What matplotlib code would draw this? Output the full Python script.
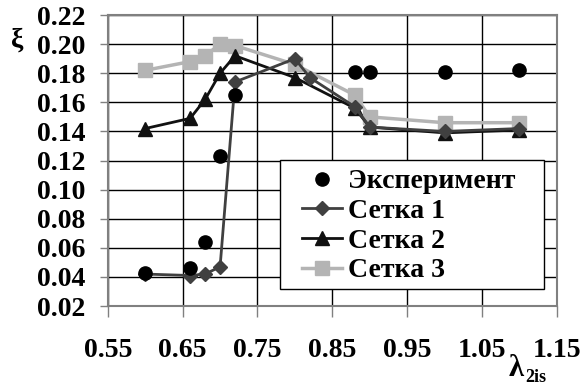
import matplotlib.pyplot as plt
from matplotlib.patches import Rectangle
from matplotlib.ticker import FixedLocator, MultipleLocator

plt.rcParams['font.family'] = ['Liberation Serif', 'DejaVu Serif']
plt.rcParams['font.weight'] = 'bold'

x_ticks = [0.55, 0.65, 0.75, 0.85, 0.95, 1.05, 1.15]

# experiment
exp_x = [0.60, 0.66, 0.68, 0.70, 0.72, 0.88, 0.90, 1.00, 1.10]
exp_y = [0.043, 0.046, 0.064, 0.123, 0.165, 0.181, 0.181, 0.181, 0.182]

# grids
s1_x = [0.60, 0.66, 0.68, 0.70, 0.72, 0.80, 0.82, 0.88, 0.90, 1.00, 1.10]
s1_y = [0.042, 0.041, 0.042, 0.047, 0.174, 0.190, 0.177, 0.157, 0.143, 0.140, 0.142]

s2_x = [0.60, 0.66, 0.68, 0.70, 0.72, 0.80, 0.88, 0.90, 1.00, 1.10]
s2_y = [0.142, 0.149, 0.162, 0.180, 0.192, 0.177, 0.156, 0.143, 0.139, 0.141]

s3_x = [0.60, 0.66, 0.68, 0.70, 0.72, 0.80, 0.88, 0.90, 1.00, 1.10]
s3_y = [0.182, 0.188, 0.192, 0.200, 0.199, 0.186, 0.165, 0.150, 0.146, 0.146]

W, H = 583, 385
fig = plt.figure(figsize=(W / 100, H / 100), dpi=100)
ax = fig.add_axes([0.185, 0.205, 0.77, 0.756])

ax.plot(s3_x, s3_y, color='#b4b4b4', lw=2.5, marker='s', ms=9.5, label='Сетка 3', zorder=3)
ax.plot(s2_x, s2_y, color='#111111', lw=2, marker='^', ms=10, label='Сетка 2', zorder=4)
ax.plot(s1_x, s1_y, color='#404040', lw=2, marker='D', ms=7, label='Сетка 1', zorder=5)
ax.plot(exp_x, exp_y, ls='none', color='black', marker='o', ms=9.5, label='Эксперимент', zorder=6)

ax.set_xlim(0.55, 1.15)
ax.set_ylim(0.02, 0.22)
ax.xaxis.set_major_locator(FixedLocator(x_ticks))
ax.yaxis.set_major_locator(MultipleLocator(0.02))
ax.xaxis.set_major_formatter(plt.FormatStrFormatter('%.2f'))
ax.yaxis.set_major_formatter(plt.FormatStrFormatter('%.2f'))
ax.grid(True, color='black', lw=1)
ax.set_axisbelow(True)
for sp in ax.spines.values():
    sp.set_color('#808080')
    sp.set_linewidth(1.5)
ax.tick_params(axis='x', length=8, width=1, color='#808080', pad=15, labelsize=20)
ax.tick_params(axis='y', length=6, width=1, color='#808080', pad=10, labelsize=20)

fig.text(0.029, 0.896, 'ξ', fontsize=20, ha='center', va='center')
fig.text(516 / W, 1 - 368 / H, 'λ', fontsize=22, ha='center', va='center')
fig.text(536 / W, 1 - 378 / H, '2is', fontsize=13, ha='center', va='center')

# legend frame: white box with black edge
box = Rectangle((280 / W, 1 - 289 / H), 264 / W, 129 / H, transform=fig.transFigure,
                facecolor='white', edgecolor='black', lw=1, zorder=10)
fig.add_artist(box)

h, l = ax.get_legend_handles_labels()
leg = fig.legend(h[::-1], l[::-1], loc='upper left', bbox_to_anchor=(302 / W, 1 - 169 / H),
                 fontsize=20, frameon=False, handlelength=1.45, handletextpad=0.2,
                 labelspacing=0.15, borderpad=0, borderaxespad=0)
leg.set_zorder(11)

fig.savefig('out.png', dpi=100)
